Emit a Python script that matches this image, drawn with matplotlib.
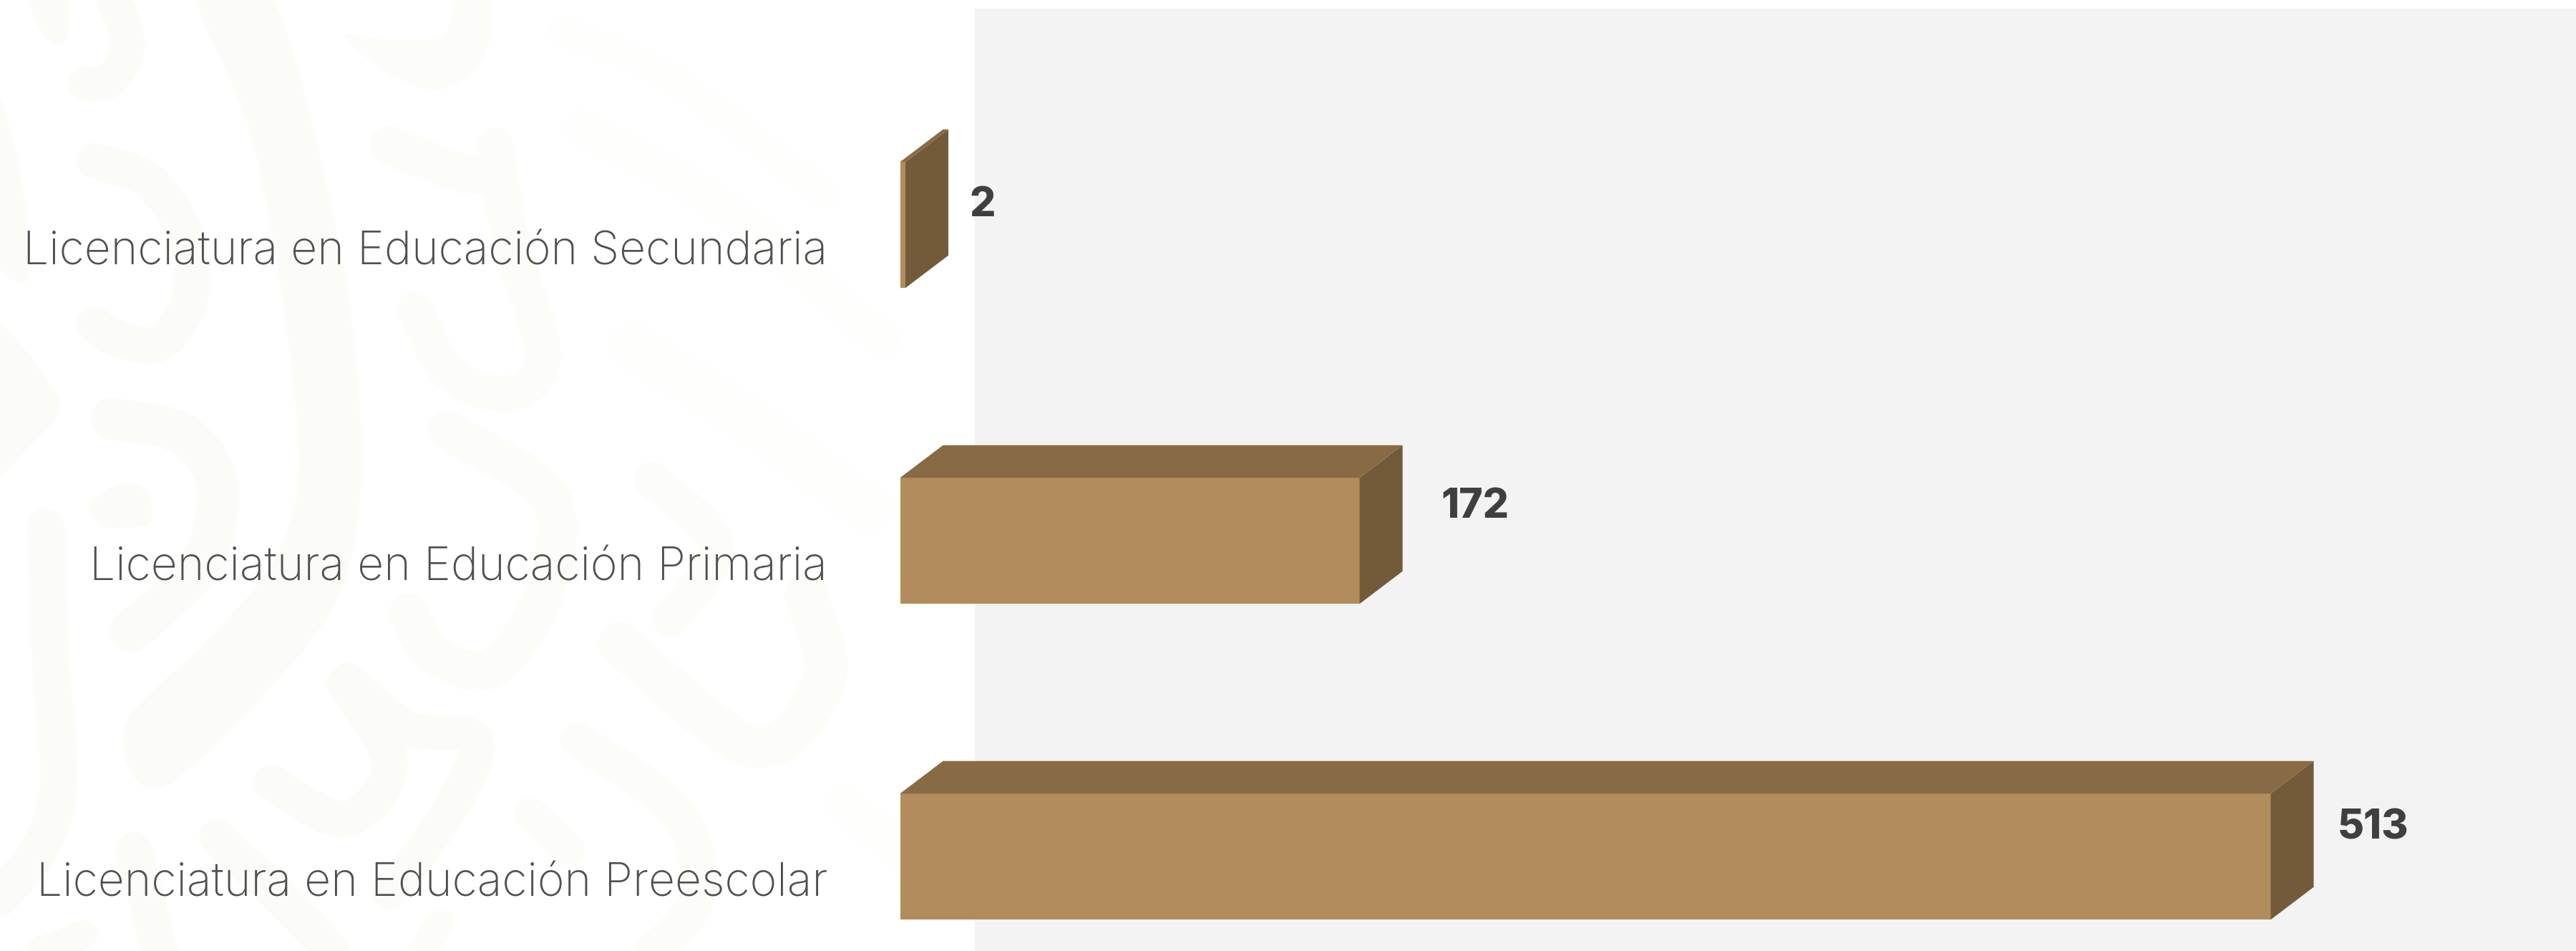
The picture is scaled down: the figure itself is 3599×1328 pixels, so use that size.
import numpy as np
import matplotlib
matplotlib.use("Agg")
import matplotlib.pyplot as plt
from matplotlib.patches import Polygon, Rectangle
from matplotlib.lines import Line2D

# ---------- data ----------
categories = ["Licenciatura en Educación Secundaria",
              "Licenciatura en Educación Primaria",
              "Licenciatura en Educación Preescolar"]
values = [2, 172, 513]

# ---------- figure geometry ----------
W, H = 3599, 1328
PX_PER_UNIT = 3.733
X0 = 1257.5
ROW0, ROW_STEP = 314.2, 441.0
BAR_H = 176 / ROW_STEP
DX = 60 / PX_PER_UNIT
DY = 45.5 / ROW_STEP
FRONT, TOP, SIDE = "#B28C5C", "#886B45", "#725A3B"
LABEL_FONT = ["Inter", "DejaVu Sans"]

fig = plt.figure(figsize=(W / 100, H / 100), dpi=100, facecolor="white")

# ---------- background: watermark + panel (pixel coords) ----------
bg = fig.add_axes([0, 0, 1, 1], zorder=0)
bg.set_xlim(0, W)
bg.set_ylim(H, 0)
bg.axis("off")


def smooth(pts, n=14, closed=False):
    p = np.asarray(pts, float)
    p = p / [1.12, 1.18]
    if closed:
        p = np.vstack([p[-1], p, p[0], p[1]])
    else:
        p = np.vstack([p[0], p, p[-1]])
    out = []
    for i in range(1, len(p) - 2):
        a, b, c, d = p[i - 1], p[i], p[i + 1], p[i + 2]
        for t in np.linspace(0, 1, n, endpoint=False):
            out.append(0.5 * ((2 * b) + (c - a) * t + (2 * a - 5 * b + 4 * c - d) * t ** 2
                              + (3 * b - a - 3 * c + d) * t ** 3))
    out.append(p[-2])
    return np.array(out)


C1, C2, C3 = "#FBFBF7", "#FCFCF9", "#FEFEFC"


def blob(pts, c=C1):
    bg.add_patch(Polygon(smooth(pts, closed=True), closed=True, fc=c, ec="none", zorder=1))


def stroke(pts, w, c=C1):
    s = smooth(pts)
    bg.add_line(Line2D(s[:, 0], s[:, 1], lw=w * 0.72, color=c, solid_capstyle="round",
                       solid_joinstyle="round", zorder=1))


blob([(305, -20), (400, 250), (465, 700), (440, 900), (330, 1050), (210, 1170), (195, 1240),
      (225, 1295), (280, 1280), (400, 1160), (530, 980), (565, 750), (530, 400), (420, -20)])
blob([(-20, 130), (25, 250), (42, 380), (38, 465), (-20, 400)])
blob([(45, -10), (70, 60), (100, 70), (108, 30), (100, -10)])
stroke([(170, -20), (200, 70), (175, 130), (135, 138)], 48)
stroke([(148, 265), (235, 300), (295, 400), (295, 500), (250, 565), (190, 560), (148, 535)], 50)
blob([(-20, 530), (80, 635), (90, 680), (60, 720), (-20, 780)])
stroke([(175, 690), (285, 715), (340, 800), (320, 920), (260, 990), (205, 1040)], 58)
blob([(140, 830), (190, 797), (230, 810), (235, 860), (190, 870), (155, 865)])
stroke([(72, 868), (80, 1100), (92, 1290), (60, 1400), (-10, 1490)], 52)
blob([(540, 60), (620, 130), (700, 145), (760, 90), (762, -10), (720, -10), (690, 60), (600, 65)], C2)
stroke([(610, 240), (720, 285), (770, 290)], 55, C2)
stroke([(775, 240), (800, 400), (850, 590), (790, 650), (700, 610), (650, 510)], 50, C2)
stroke([(880, 50), (1050, 130), (1290, 320)], 40, C3)
stroke([(910, 210), (1130, 340), (1380, 560)], 50, C3)
stroke([(990, 570), (1180, 700), (1360, 840)], 65, C3)
stroke([(700, 710), (860, 820), (850, 980), (770, 1100), (680, 1080), (640, 1010)], 55, C2)
stroke([(1020, 790), (1120, 900), (1050, 1020)], 50, C2)
stroke([(970, 1060), (1180, 1230), (1290, 1120), (1260, 980)], 60, C2)
stroke([(545, 1120), (640, 1200), (745, 1220), (700, 1340), (610, 1470)], 48)
stroke([(540, 1125), (610, 1260), (540, 1350), (425, 1290)], 50)
stroke([(905, 1220), (1060, 1340), (1090, 1480), (1010, 1580)], 50, C2)
stroke([(340, 1380), (450, 1490), (530, 1580)], 50)
stroke([(830, 1340), (890, 1400)], 45, C2)
stroke([(1320, 1320), (1420, 1420)], 50, C3)
stroke([(60, 1570), (130, 1540)], 40)
stroke([(210, 1400), (250, 1570)], 50)
stroke([(660, 1570), (690, 1520)], 40, C2)

bg.add_patch(Rectangle((1362, 12), W - 1362, H, fc="#F3F3F3", ec="none", zorder=2))

# ---------- chart axes: x value scale, y category rows ----------
ax = fig.add_axes([X0 / W, 0, 1 - X0 / W, 1], zorder=1)
ax.patch.set_alpha(0)
ax.set_xlim(0, (W - X0) / PX_PER_UNIT)
ax.set_ylim((H - ROW0) / ROW_STEP, -ROW0 / ROW_STEP)
for s in ax.spines.values():
    s.set_visible(False)
ax.xaxis.set_visible(False)

rows = np.arange(len(values))
ax.barh(rows, values, height=BAR_H, color=FRONT, zorder=3, lw=0)
for r, v in zip(rows, values):
    t, b = r - BAR_H / 2, r + BAR_H / 2
    ax.add_patch(Polygon([(0, t), (v, t), (v + DX, t - DY), (DX, t - DY)], fc=TOP, ec="none", zorder=3))
    ax.add_patch(Polygon([(v, t), (v + DX, t - DY), (v + DX, b - DY), (v, b)], fc=SIDE, ec="none", zorder=3))

ax.set_yticks(rows + 55.6 / ROW_STEP)
ax.set_yticklabels(categories, family=LABEL_FONT, fontsize=46.3, fontweight="light",
                   color="#505050", va="baseline")
ax.tick_params(axis="y", length=0, pad=(X0 - 1156) * 0.72)

offsets = [(90, -12), (114, -32.5), (93.5, -24.5)]
for r, v, (ox, oy) in zip(rows, values, offsets):
    ax.annotate(str(v), (v, r), xytext=(ox * 0.72, -oy * 0.72), textcoords="offset points",
                ha="left", va="baseline", family=LABEL_FONT, fontsize=41, fontweight=800,
                color="#3F3F3F", zorder=4)

fig.savefig("out.png", dpi=100)
